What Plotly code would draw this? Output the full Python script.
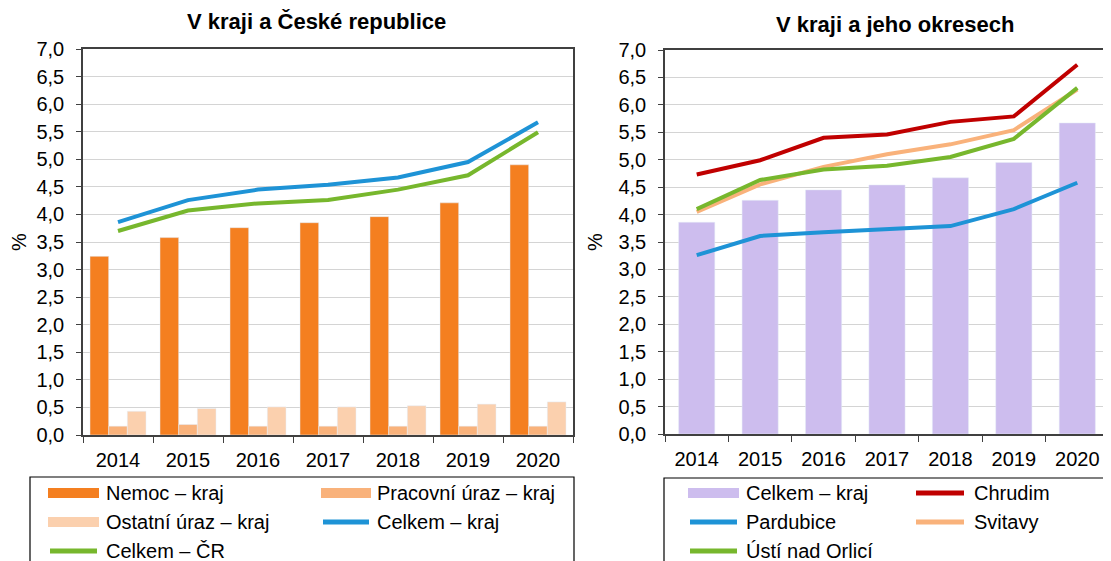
import plotly.graph_objects as go

W, H = 1111, 561
OFF = 8  # page body margin offset

years = ["2014", "2015", "2016", "2017", "2018", "2019", "2020"]

# Left chart: V kraji a České republice
nemoc_kraj = [3.24, 3.58, 3.76, 3.85, 3.96, 4.21, 4.90]
pracovni_uraz_kraj = [0.16, 0.19, 0.16, 0.16, 0.16, 0.16, 0.16]
ostatni_uraz_kraj = [0.43, 0.48, 0.51, 0.51, 0.53, 0.56, 0.60]
celkem_kraj = [3.86, 4.26, 4.45, 4.54, 4.67, 4.95, 5.67]
celkem_cr = [3.70, 4.07, 4.20, 4.26, 4.45, 4.71, 5.49]

# Right chart: V kraji a jeho okresech
chrudim = [4.73, 4.99, 5.40, 5.46, 5.69, 5.79, 6.73]
pardubice = [3.26, 3.61, 3.68, 3.73, 3.79, 4.10, 4.58]
svitavy = [4.05, 4.55, 4.87, 5.10, 5.28, 5.54, 6.28]
usti = [4.10, 4.63, 4.82, 4.89, 5.05, 5.38, 6.31]

y_ticks = [i * 0.5 for i in range(15)]

C_NEMOC = "#F47F20"
C_PRAC = "#F9B27B"
C_OST = "#FBD0AE"
C_BLUE = "#1E93D6"
C_GREEN = "#77B72D"
C_RED = "#C00000"
C_SVIT = "#F9B27B"
C_PURPLE = "#CDBDEE"

FONT = "Liberation Sans, Arial, sans-serif"


def px(x):
    return (x - OFF) / W


def py(y):
    return 1 - (y - OFF) / H


fig = go.Figure()

# left bars
fig.add_trace(go.Bar(x=years, y=nemoc_kraj, name="Nemoc – kraj", marker_color=C_NEMOC,
                     xaxis="x", yaxis="y", showlegend=False))
fig.add_trace(go.Bar(x=years, y=pracovni_uraz_kraj, name="Pracovní úraz – kraj", marker_color=C_PRAC,
                     xaxis="x", yaxis="y", showlegend=False))
fig.add_trace(go.Bar(x=years, y=ostatni_uraz_kraj, name="Ostatní úraz – kraj", marker_color=C_OST,
                     xaxis="x", yaxis="y", showlegend=False))
fig.add_trace(go.Scatter(x=years, y=celkem_kraj, name="Celkem – kraj", mode="lines",
                         line=dict(color=C_BLUE, width=4), xaxis="x", yaxis="y", showlegend=False))
fig.add_trace(go.Scatter(x=years, y=celkem_cr, name="Celkem – ČR", mode="lines",
                         line=dict(color=C_GREEN, width=4), xaxis="x", yaxis="y", showlegend=False))

# right
fig.add_trace(go.Bar(x=years, y=celkem_kraj, name="Celkem – kraj", marker_color=C_PURPLE,
                     width=0.57, xaxis="x2", yaxis="y2", showlegend=False))
fig.add_trace(go.Scatter(x=years, y=chrudim, name="Chrudim", mode="lines",
                         line=dict(color=C_RED, width=4), xaxis="x2", yaxis="y2", showlegend=False))
fig.add_trace(go.Scatter(x=years, y=svitavy, name="Svitavy", mode="lines",
                         line=dict(color=C_SVIT, width=4), xaxis="x2", yaxis="y2", showlegend=False))
fig.add_trace(go.Scatter(x=years, y=usti, name="Ústí nad Orlicí", mode="lines",
                         line=dict(color=C_GREEN, width=4), xaxis="x2", yaxis="y2", showlegend=False))
fig.add_trace(go.Scatter(x=years, y=pardubice, name="Pardubice", mode="lines",
                         line=dict(color=C_BLUE, width=4), xaxis="x2", yaxis="y2", showlegend=False))

axis_line = "#404040"
grid = "#D4D4D4"
tickfont = dict(family=FONT, size=20, color="#000000")

xcommon = dict(type="category", tickson="boundaries", ticks="outside", ticklen=6,
               tickcolor=axis_line, showline=True, linecolor=axis_line, linewidth=1.5,
               showgrid=False, tickfont=tickfont, ticklabelstandoff=6, automargin=False,
               fixedrange=True, range=[-0.5, 6.5])
ycommon = dict(range=[0, 7], tickvals=y_ticks, tickformat=".1f", ticks="outside", ticklen=5,
               tickcolor=axis_line, showline=True, linecolor=axis_line, linewidth=1.5,
               showgrid=True, gridcolor=grid, gridwidth=1.2, tickfont=tickfont,
               ticklabelstandoff=8, zeroline=False, automargin=False)

fig.update_layout(
    width=W, height=H, autosize=False,
    margin=dict(l=0, r=0, t=0, b=0, pad=0, autoexpand=False),
    paper_bgcolor="white", plot_bgcolor="white",
    separators=", ",
    barmode="group", bargap=0.2, bargroupgap=0,
    font=dict(family=FONT, color="#000000"),
    xaxis=dict(domain=[px(83), px(573)], anchor="y", mirror=True, **xcommon),
    yaxis=dict(domain=[py(435), py(49)], anchor="x", mirror=True,
               title=dict(text="%", font=dict(family=FONT, size=20), standoff=12), **ycommon),
    xaxis2=dict(domain=[px(665), px(1109)], anchor="y2", mirror=True, **xcommon),
    yaxis2=dict(domain=[py(434), py(50)], anchor="x2", mirror=False,
                title=dict(text="%", font=dict(family=FONT, size=20), standoff=10), **ycommon),
)

annotations = [
    dict(text="<b>V kraji a České republice</b>", x=px(316), y=py(22), xref="paper", yref="paper",
         xanchor="center", yanchor="middle", showarrow=False, font=dict(family=FONT, size=22)),
    dict(text="<b>V kraji a jeho okresech</b>", x=px(895), y=py(25), xref="paper", yref="paper",
         xanchor="center", yanchor="middle", showarrow=False, font=dict(family=FONT, size=22)),
]
shapes = []

# manual legends
left_legend_names = ["Nemoc – kraj", "Pracovní úraz – kraj", "Ostatní úraz – kraj", "Celkem – kraj", "Celkem – ČR"]
left_legend_colors = [C_NEMOC, C_PRAC, C_OST, C_BLUE, C_GREEN]
left_legend_kinds = ["bar", "bar", "bar", "line", "line"]
right_legend_names = ["Celkem – kraj", "Chrudim", "Pardubice", "Svitavy", "Ústí nad Orlicí"]
right_legend_colors = [C_PURPLE, C_RED, C_BLUE, C_SVIT, C_GREEN]
right_legend_kinds = ["bar", "line", "line", "line", "line"]

row_y = [493, 522, 551]


def add_legend(names, colors, kinds, box, cols_sym, cols_text):
    shapes.append(dict(type="rect", xref="paper", yref="paper", x0=px(box[0]), x1=px(box[2]),
                       y0=py(box[3]), y1=py(box[1]), line=dict(color="#000000", width=1.2),
                       fillcolor="rgba(0,0,0,0)"))
    for i, (n, c, k) in enumerate(zip(names, colors, kinds)):
        r, col = divmod(i, 2)
        yy = row_y[r]
        x0, x1 = cols_sym[col]
        if k == "bar":
            shapes.append(dict(type="rect", xref="paper", yref="paper", x0=px(x0), x1=px(x1),
                               y0=py(yy + 5), y1=py(yy - 5), line=dict(width=0), fillcolor=c))
        else:
            shapes.append(dict(type="line", xref="paper", yref="paper", x0=px(x0 + 2), x1=px(x1 - 2),
                               y0=py(yy), y1=py(yy), line=dict(color=c, width=5)))
        annotations.append(dict(text=n, x=px(cols_text[col]), y=py(yy), xref="paper", yref="paper",
                                xanchor="left", yanchor="middle", showarrow=False,
                                font=dict(family=FONT, size=20, color="#000000")))


add_legend(left_legend_names, left_legend_colors, left_legend_kinds,
           (30, 477, 574, 620), [(48, 99), (321, 371)], [104, 375])
add_legend(right_legend_names, right_legend_colors, right_legend_kinds,
           (664, 478, 1140, 620), [(688, 739), (914, 966)], [744, 972])

fig.update_layout(annotations=annotations, shapes=shapes)

fig.write_html("out.html")
